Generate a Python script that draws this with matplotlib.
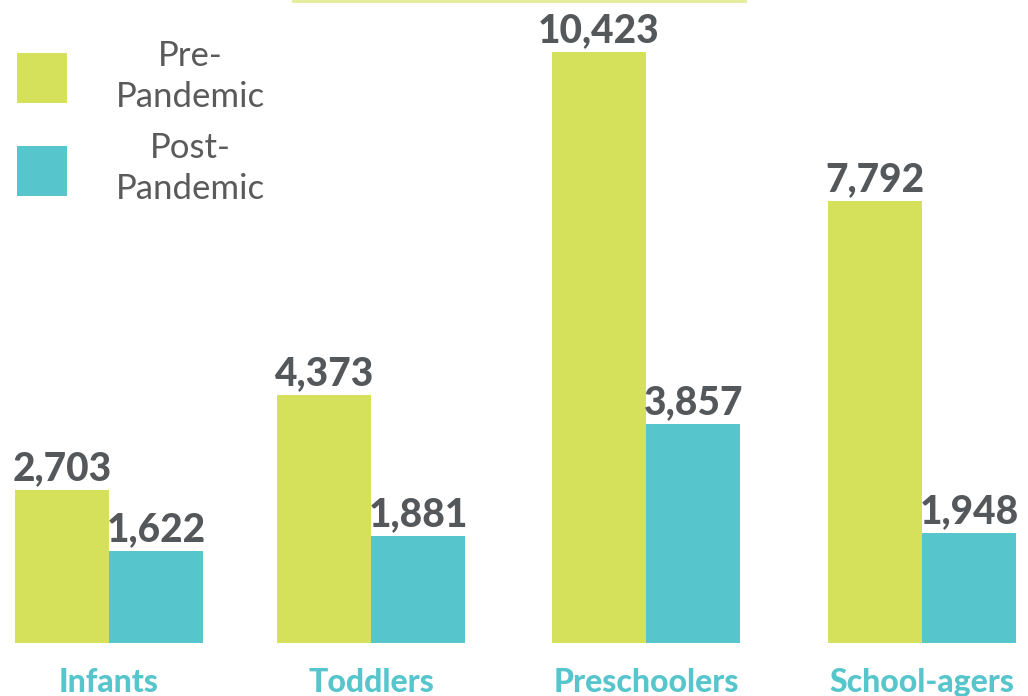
import numpy as np
import matplotlib.pyplot as plt
from matplotlib.lines import Line2D

categories = ['Infants', 'Toddlers', 'Preschoolers', 'School-agers']
pre = [2703, 4373, 10423, 7792]
post = [1622, 1881, 3857, 1948]
series = ['Pre-\nPandemic', 'Post-\nPandemic']

green = '#d5e05b'
teal = '#57c5cc'
gray = '#55585b'

plt.rcParams['font.family'] = ['Lato', 'DejaVu Sans']

fig = plt.figure(figsize=(10.28, 6.96), dpi=100)
ax = fig.add_axes([0, 53 / 696, 1, 643 / 696])

x = np.array([0, 0.967, 1.982, 3.0])
w = 0.347
b1 = ax.bar(x - w / 2, pre, w, color=green, label=series[0])
b2 = ax.bar(x + w / 2, post, w, color=teal, label=series[1])

for bars in (b1, b2):
    for r in bars:
        ax.annotate(f'{int(r.get_height()):,}', (r.get_x() + r.get_width() / 2, r.get_height()),
                    xytext=(0, 2), textcoords='offset points', ha='center', va='bottom',
                    fontsize=28, fontweight='black', color=gray)

ax.set_xlim(-0.402, 3.391)
ax.set_ylim(0, 11340)
ax.set_xticks(x)
ax.set_xticklabels(categories, fontsize=23, fontweight='black', color=teal)
ax.tick_params(axis='x', length=0, pad=18)
ax.set_yticks([])
for s in ax.spines.values():
    s.set_visible(False)
ax.patch.set_alpha(0)

leg = ax.legend(loc='upper left', bbox_to_anchor=(17 / 1028, 1 - 40 / 643), frameon=False,
                fontsize=25, handlelength=1.44, handleheight=1.84, handletextpad=1.4,
                labelspacing=0.55, borderpad=0, borderaxespad=0)
for t in leg.get_texts():
    t.set_multialignment('center')
    t.set_linespacing(1.35)
    t.set_color('#5a5a5a')

fig.add_artist(Line2D([293 / 1028, 745 / 1028], [0.998, 0.998], color='#e3ea95', lw=2))

fig.savefig('out.png', dpi=100)
